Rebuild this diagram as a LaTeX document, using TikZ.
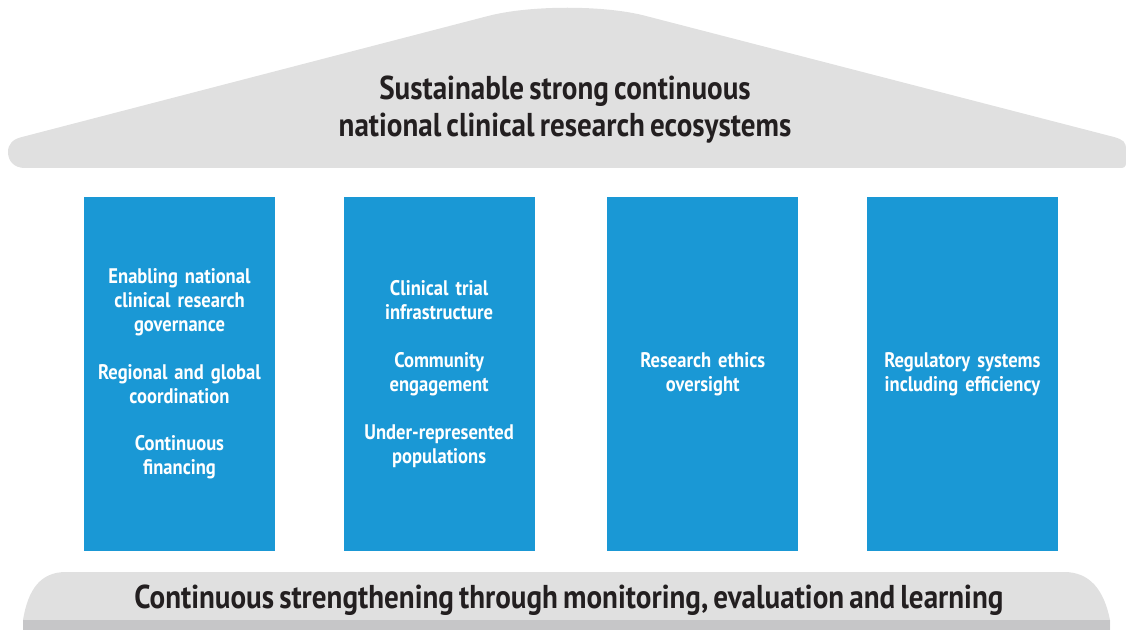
\documentclass[tikz,border=0pt]{standalone}
\usepackage{fontspec}
\setmainfont{PT Sans}[FakeStretch=0.88, WordSpace=0.7]
\usetikzlibrary{positioning}
\definecolor{pillarblue}{HTML}{1A98D5}
\definecolor{roofgrey}{HTML}{E0E0E0}
\definecolor{stripgrey}{HTML}{C6C6C8}
\definecolor{inkdark}{HTML}{231F20}
\begin{document}
\begin{tikzpicture}[x=0.025cm, y=-0.025cm,
  pillar/.style = {fill=pillarblue, text=white, inner sep=0pt,
    minimum width=4.775cm, minimum height=8.825cm, text width=4.6cm,
    align=center, font=\bfseries\fontsize{15}{17}\selectfont},
  heading/.style = {text=inkdark, align=center, inner sep=0pt,
    font=\bfseries\fontsize{23.5}{26.3}\selectfont}]
\useasboundingbox (0,0) rectangle (1126,630);
% roof
\fill[roofgrey] (22,137) -- (488,16) .. controls (530,5) and (605,5) .. (646,16)
  -- (1114,137) .. controls (1124,140) and (1126,142) .. (1126,150) -- (1126,163)
  .. controls (1126,167) and (1124,168) .. (1120,168) -- (25,168)
  .. controls (14,168) and (8,161) .. (8,152) .. controls (8,144) and (13,139) .. (22,137) -- cycle;
\node[heading] (roof) at (565,110) {Sustainable strong continuous\\national clinical research ecosystems};
% pillars
\node[pillar] (1) at (179.5,374) {Enabling national\\clinical research\\governance\\[17pt]Regional and global\\coordination\\[17pt]Continuous\\financing};
\node[pillar] (2) [right=1.7cm of 1] {Clinical trial\\infrastructure\\[17pt]Community\\engagement\\[17pt]Under-represented\\populations};
\node[pillar] (3) [right=1.8cm of 2] {Research ethics\\oversight};
\node[pillar] (4) [right=1.7cm of 3] {Regulatory systems\\including efficiency};
% base
\fill[roofgrey] (23,630) -- (23,620) .. controls (28,590) and (40,572) .. (66,572) -- (1064,572)
  .. controls (1090,572) and (1104,590) .. (1110,620) -- (1110,630) -- cycle;
\fill[stripgrey] (23,620) rectangle (1110,630);
\node[heading] (base) at (569,600) {Continuous strengthening through monitoring, evaluation and learning};
\end{tikzpicture}
\end{document}
